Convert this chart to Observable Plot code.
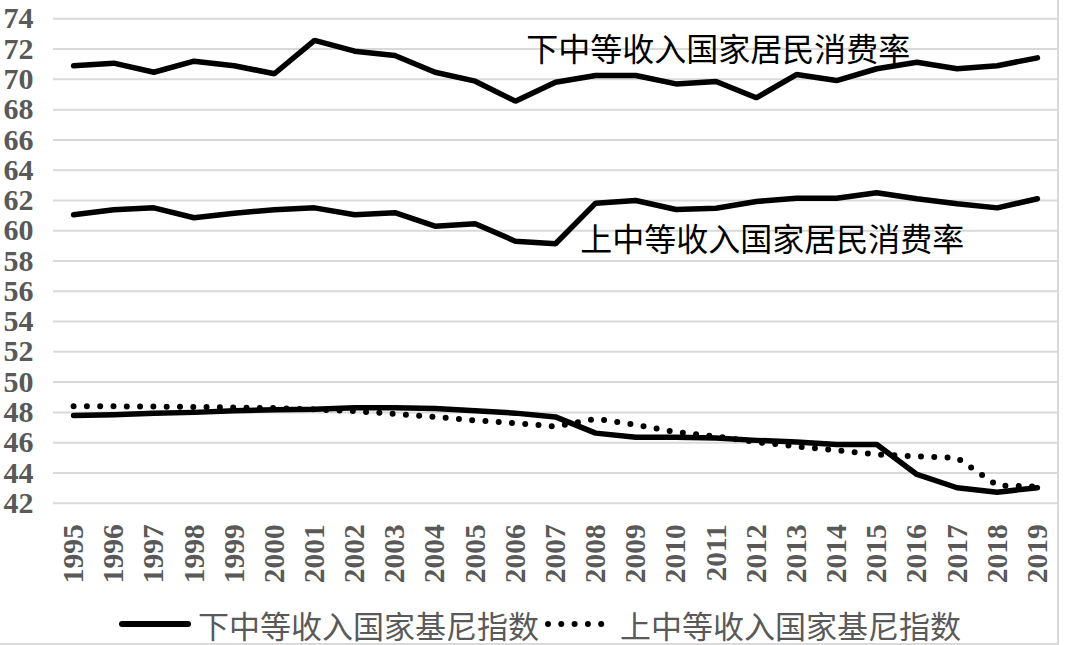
<!DOCTYPE html>
<html><head><meta charset="utf-8">
<script src="https://cdn.jsdelivr.net/npm/d3@7"></script>
<script src="https://cdn.jsdelivr.net/npm/@observablehq/plot@0.6"></script>
<style>
body{margin:0;background:#fff;}
#wrap{position:relative;width:1080px;height:645px;overflow:hidden;}
#wrap svg{max-width:none;}
#frameR{position:absolute;left:1057px;top:0;width:2px;height:644px;background:#d9d9d9;}
#frameB{position:absolute;left:0;top:643px;width:1059px;height:2px;background:#d9d9d9;}
#legend{position:absolute;left:0;top:603px;width:1080px;height:42px;display:flex;align-items:center;justify-content:center;font-family:"Noto Sans CJK SC",sans-serif;font-size:31px;color:#595959;}
#legend .item{display:flex;align-items:center;}
#legend svg{margin-right:7px;}
</style>
</head><body>
<div id="wrap"><div id="chart"></div><div id="legend"></div><div id="frameR"></div><div id="frameB"></div></div>
<script>
const years = [1995,1996,1997,1998,1999,2000,2001,2002,2003,2004,2005,2006,2007,2008,2009,2010,2011,2012,2013,2014,2015,2016,2017,2018,2019];
const lowerCons = [70.9,71.07,70.47,71.2,70.9,70.37,72.57,71.86,71.58,70.47,69.88,68.56,69.81,70.25,70.25,69.7,69.86,68.78,70.32,69.92,70.7,71.13,70.7,70.9,71.42];
const upperCons = [61.05,61.38,61.51,60.86,61.16,61.38,61.51,61.05,61.19,60.3,60.46,59.31,59.14,61.82,62.0,61.4,61.49,61.93,62.15,62.15,62.51,62.11,61.78,61.51,62.11];
const lowerGini = [47.8,47.85,47.95,48.0,48.1,48.17,48.2,48.3,48.3,48.25,48.1,47.95,47.7,46.63,46.36,46.36,46.3,46.15,46.05,45.88,45.88,43.9,43.02,42.73,43.02];
const upperGini = [48.4,48.4,48.38,48.36,48.32,48.28,48.2,48.08,47.9,47.7,47.47,47.29,47.07,47.58,47.18,46.7,46.41,46.04,45.75,45.49,45.22,45.09,45.0,43.17,43.1];
const yTicks = [42,44,46,48,50,52,54,56,58,60,62,64,66,68,70,72,74];
const seriesNames = ["下中等收入国家居民消费率","上中等收入国家居民消费率","下中等收入国家基尼指数","上中等收入国家基尼指数"];
const lineLabels = [
  {text: seriesNames[0], year: 2011.05, value: 71.9},
  {text: seriesNames[1], year: 2012.4, value: 59.36}
];

const rows = (vals) => years.map((y,i)=>({year:y, value:vals[i]}));

const serif = '"Liberation Serif","Times New Roman",serif';
const chart = Plot.plot({
  width: 1080,
  height: 605,
  marginLeft: 53,
  marginRight: 23,
  marginTop: 18.3,
  marginBottom: 102.3,
  style: {background:"transparent", overflow:"visible", maxWidth:"none"},
  x: {type:"linear", domain:[1994.5, 2019.5], ticks: years, tickFormat: d=>String(d), label:null},
  y: {domain:[42,74], ticks: yTicks, label:null},
  marks: [
    Plot.gridY(yTicks, {stroke:"#d9d9d9", strokeOpacity:1, strokeWidth:2}),
    Plot.axisY(yTicks, {tickSize:0, tickPadding:20, fontFamily:serif, fontWeight:"bold", fontSize:30, fill:"#595959", label:null}),
    Plot.axisX(years, {tickSize:0, tickPadding:21, tickRotate:-90, fontFamily:serif, fontWeight:"bold", fontSize:29.5, fill:"#595959", label:null, tickFormat:d=>String(d)}),
    Plot.line(rows(lowerCons), {x:"year", y:"value", stroke:"#000", strokeWidth:5.5, strokeLinejoin:"miter"}),
    Plot.line(rows(upperCons), {x:"year", y:"value", stroke:"#000", strokeWidth:5.5, strokeLinejoin:"miter"}),
    Plot.line(rows(lowerGini), {x:"year", y:"value", stroke:"#000", strokeWidth:5.5}),
    Plot.line(rows(upperGini), {x:"year", y:"value", stroke:"#000", strokeWidth:6, strokeDasharray:"0 13.3", strokeLinecap:"round"}),
    Plot.text(lineLabels, {x:"year", y:"value", text:"text", fontFamily:'"Noto Sans CJK SC",sans-serif', fontSize:32, fill:"#000", textAnchor:"middle"})
  ]
});
document.getElementById("chart").appendChild(chart);

const legend = document.getElementById("legend");
const items = [
  {name: seriesNames[2], dash: null, w: 66},
  {name: seriesNames[3], dash: "0 13.3", w: 62}
];
items.forEach((it, i) => {
  const d = document.createElement("div");
  d.className = "item";
  if (i > 0) d.style.marginLeft = "6px";
  const attrs = it.dash ? `stroke-dasharray="${it.dash}" stroke-linecap="round" stroke-width="6"` : `stroke-width="6" stroke-linecap="round"`;
  d.innerHTML = `<svg width="${it.w+6}" height="12"><line x1="3" y1="6" x2="${it.w+3}" y2="6" stroke="#000" ${attrs}/></svg><span>${it.name}</span>`;
  legend.appendChild(d);
});
</script>
</body></html>
